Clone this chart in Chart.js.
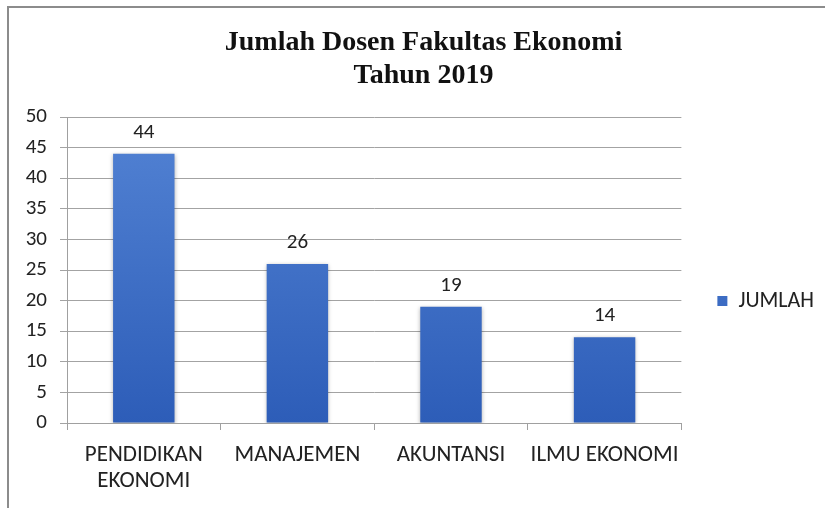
<!DOCTYPE html>
<html>
<head>
<meta charset="utf-8">
<script src="https://cdn.jsdelivr.net/npm/chart.js@4.4.0/dist/chart.umd.min.js"></script>
<style>
    body { margin: 0; background: #fff; }
    #frame {
        position: absolute; left: 7px; top: 6px; width: 830px; height: 520px;
        border-left: 2px solid #8c8c8c; border-top: 2px solid #8c8c8c;
    }
    #wrap { position: absolute; left: 0; top: 0; width: 825px; height: 508px; }
</style>
</head>
<body>
<div id="frame"></div>
<div id="wrap"><canvas id="dosenGraph" width="825" height="508"></canvas></div>
<script>
var categories = [['PENDIDIKAN', 'EKONOMI'], 'MANAJEMEN', 'AKUNTANSI', 'ILMU EKONOMI'];
var jumlah = [44, 26, 19, 14];
var titleLines = ['Jumlah Dosen Fakultas Ekonomi', 'Tahun 2019'];
var labelFont = "Carlito, 'DejaVu Sans Condensed', sans-serif";

// gradient fill for the bars, lighter at the top
function barGradient(context) {
    var chart = context.chart;
    var area = chart.chartArea;
    if (!area) return '#3a6cc4';
    var g = chart.ctx.createLinearGradient(0, area.top, 0, area.bottom);
    g.addColorStop(0, '#5383d4');
    g.addColorStop(1, '#2d5db8');
    return g;
}

// soft shadow round the bars + value labels over each bar
var valueLabels = {
    id: 'valueLabels',
    beforeDatasetsDraw: function(chart) {
        var ctx = chart.ctx;
        ctx.save();
        ctx.shadowColor = 'rgba(0, 0, 0, 0.3)';
        ctx.shadowBlur = 4;
        ctx.shadowOffsetY = 1;
    },
    afterDatasetsDraw: function(chart) {
        var ctx = chart.ctx;
        ctx.restore();
        var meta = chart.getDatasetMeta(0);
        ctx.save();
        ctx.font = '21px ' + labelFont;
        ctx.fillStyle = '#222';
        ctx.textAlign = 'center';
        ctx.textBaseline = 'alphabetic';
        meta.data.forEach(function(bar, i) {
            ctx.fillText(jumlah[i], bar.x, bar.y - 16);
        });
        ctx.restore();
    }
};

var dosenConfig =
{
    type: 'bar',
    data: {
        labels: categories,
        datasets: [{
            label: 'JUMLAH',
            data: jumlah,
            backgroundColor: barGradient,
            borderWidth: 0,
            categoryPercentage: 0.8,
            barPercentage: 0.5
        }]
    },
    options: {
        responsive: false,
        animation: false,
        layout: {
            padding: { left: 23, right: 1, top: 0, bottom: 13 }
        },
        plugins: {
            title: {
                display: true,
                text: titleLines,
                color: '#111',
                font: { family: "'Liberation Serif', 'Times New Roman', serif", size: 28, weight: 'bold', lineHeight: 1.15 },
                padding: { top: 27, bottom: 25.6 }
            },
            legend: {
                position: 'right',
                // empty legend title only pushes the entry down
                title: {
                    display: true,
                    text: ' ',
                    font: { size: 10, lineHeight: 1 },
                    padding: { top: 48, bottom: 49 }
                },
                labels: {
                    boxWidth: 10,
                    boxHeight: 10,
                    color: '#222',
                    font: { family: labelFont, size: 22 },
                    padding: 36
                }
            },
            tooltip: { enabled: false }
        },
        scales: {
            x: {
                afterFit: function(scale) { scale.height = 72; },
                grid: {
                    display: true,
                    drawOnChartArea: false,
                    color: '#a0a0a0',
                    tickLength: 7,
                    offset: true
                },
                border: { color: '#a0a0a0' },
                ticks: {
                    color: '#222',
                    font: { family: labelFont, size: 23, lineHeight: 1.15 },
                    maxRotation: 0,
                    padding: 12
                }
            },
            y: {
                min: 0,
                max: 50,
                afterFit: function(scale) { scale.width = 44; },
                grid: { color: '#a3a3a3', tickLength: 7 },
                border: { color: '#a0a0a0' },
                ticks: {
                    stepSize: 5,
                    color: '#222',
                    font: { family: labelFont, size: 21 },
                    padding: 13
                }
            }
        }
    },
    plugins: [valueLabels]
}

const dosenCtx = document.getElementById('dosenGraph');
const dosenChart = new Chart(dosenCtx, dosenConfig);
</script>
</body>
</html>
